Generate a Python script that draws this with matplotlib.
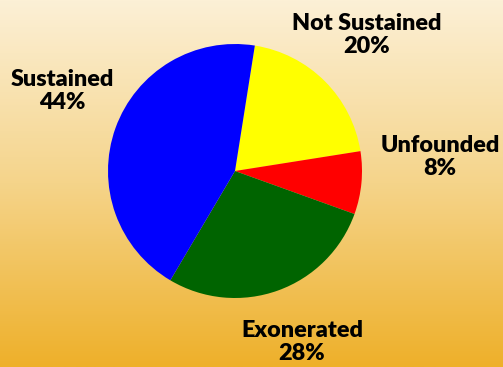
import numpy as np
import matplotlib
matplotlib.use("Agg")
import matplotlib.pyplot as plt
from matplotlib.colors import LinearSegmentedColormap

categories = ["Not Sustained", "Unfounded", "Exonerated", "Sustained"]
values = [20, 8, 28, 44]
pct_labels = ["20%", "8%", "28%", "44%"]
colors = ["#FFFF00", "#FF0000", "#006400", "#0000FF"]

W, H = 503, 367
fig = plt.figure(figsize=(W / 100, H / 100), dpi=100)

# background gradient
bg = fig.add_axes([0, 0, 1, 1], zorder=0)
cmap = LinearSegmentedColormap.from_list("bg", ["#FCF0D6", "#F5D48A", "#EEB02A"])
grad = np.linspace(0, 1, 256).reshape(-1, 1)
bg.imshow(grad, aspect="auto", cmap=cmap, extent=[0, 1, 0, 1], origin="upper")
bg.set_axis_off()

ax = fig.add_axes([0, 0, 1, 1], zorder=1)
ax.set_xlim(0, W)
ax.set_ylim(0, H)
ax.set_axis_off()
ax.patch.set_alpha(0)

cx, cy, r = 235, H - 171, 127
ax.pie(values, colors=colors, startangle=81.0, counterclock=False,
       center=(cx, cy), radius=r, frame=True,
       wedgeprops=dict(linewidth=0))
ax.set_xlim(0, W)
ax.set_ylim(0, H)
ax.set_aspect("auto")
ax.set_axis_off()

label_pos = [(367, H - 35), (440, H - 157), (302, H - 342), (62, H - 91)]
for cat, pct, (x, y) in zip(categories, pct_labels, label_pos):
    ax.text(x, y, f"{cat}\n{pct}", ha="center", va="center",
            fontsize=16.8, fontweight="heavy", family="Lato",
            linespacing=1.08, color="black")

fig.savefig("out.png", dpi=100)
